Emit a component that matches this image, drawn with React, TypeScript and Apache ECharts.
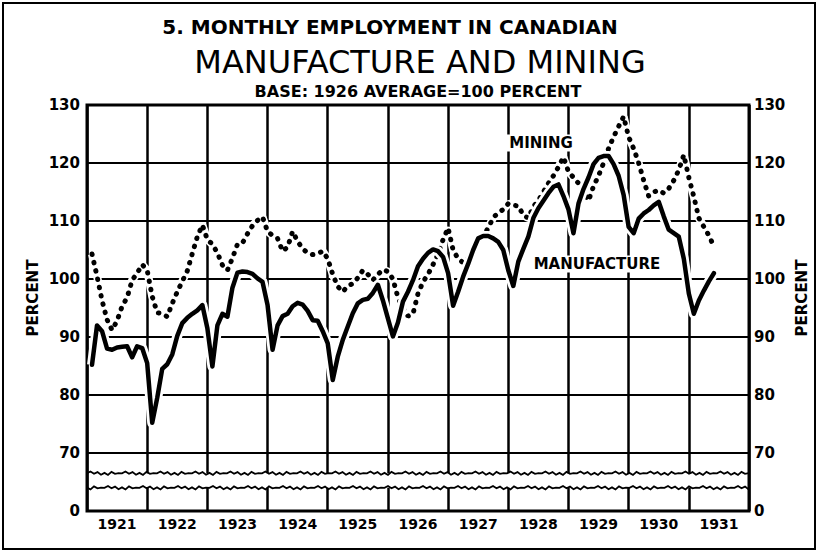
import React, { useEffect, useRef } from "react";
import * as echarts from "echarts";

// Year columns on the horizontal axis
const years = ["1921", "1922", "1923", "1924", "1925", "1926", "1927", "1928", "1929", "1930", "1931"];

// Monthly index of employment in manufacture, Jan 1921 – May 1931 (1926 avg = 100)
const manufacture = [
  85.2, 92.0, 91.0, 88.0, 87.8, 88.2, 88.3, 88.4, 86.5, 88.4, 88.1, 85.5,
  75.2, 79.5, 84.5, 85.3, 87.0, 90.2, 92.4, 93.3, 94.0, 94.6, 95.5, 91.5,
  84.9, 92.0, 94.0, 93.5, 98.5, 101.1, 101.3, 101.2, 100.9, 100.1, 99.5, 95.5,
  87.8, 92.0, 93.6, 94.0, 95.3, 95.9, 95.6, 94.5, 92.9, 92.8, 91.0, 88.9,
  82.6, 86.6, 89.5, 91.8, 94.1, 95.8, 96.4, 96.6, 97.6, 99.0, 96.3, 93.2,
  90.1, 92.5, 96.1, 97.8, 99.8, 102.2, 103.5, 104.5, 105.1, 104.8, 103.8, 101.0,
  95.4, 97.8, 100.4, 102.6, 105.0, 107.0, 107.4, 107.4, 107.0, 106.4, 105.0, 101.5,
  98.8, 103.0, 105.2, 107.3, 110.5, 112.2, 113.5, 114.8, 115.9, 116.3, 114.3, 112.0,
  107.9, 113.0, 115.5, 117.5, 119.8, 120.9, 121.2, 121.2, 119.8, 117.8, 114.5, 109.0,
  107.9, 110.4, 111.3, 111.9, 112.7, 113.3, 110.8, 108.5, 107.9, 107.3, 103.5, 97.5,
  94.0, 96.3, 98.0, 99.6, 101.0,
];

// Monthly index of employment in mining, Jan 1921 – May 1931 (1926 avg = 100)
const mining = [
  104.3, 100.5, 96.3, 93.0, 91.2, 92.8, 95.3, 96.8, 99.8, 101.0, 102.5, 101.5,
  97.0, 94.2, 94.0, 93.5, 95.8, 97.8, 99.6, 101.4, 104.4, 107.3, 109.3, 106.8,
  106.0, 104.5, 102.4, 101.5, 103.6, 106.0, 106.2, 107.8, 109.2, 110.1, 110.7, 108.2,
  107.5, 107.0, 104.8, 105.5, 108.2, 106.5, 105.2, 104.5, 104.2, 104.4, 104.8, 103.5,
  100.8, 98.7, 97.8, 98.8, 99.2, 100.2, 101.5, 100.8, 99.8, 100.8, 101.6, 101.3,
  100.0, 96.8, 95.0, 93.6, 94.0, 97.5, 99.5, 100.8, 102.5, 104.3, 106.8, 108.8,
  105.0, 103.5, 102.8, 103.6, 105.2, 106.5, 107.4, 108.8, 110.6, 111.4, 112.0, 113.0,
  112.7, 112.6, 111.0, 110.5, 112.5, 113.5, 115.0, 116.5, 117.8, 119.3, 121.0, 118.5,
  117.5, 116.5, 115.0, 113.5, 116.0, 117.8, 120.0, 122.5, 124.5, 126.3, 128.0, 124.5,
  122.5, 120.0, 117.0, 114.3, 115.0, 115.3, 114.8, 115.6, 117.0, 118.8, 121.4, 117.5,
  114.2, 110.5, 109.0, 107.5, 105.6,
];

// Vertical scale: 60 stands for the broken-axis "0"
const yMin = 60;
const yMax = 130;
const yStep = 10;
const startYear = 1921;
const endYear = 1932;

const FONT = "DejaVu Sans";

const toPoints = (vals: number[]) => vals.map((v, i) => [startYear + (i + 1) / 12, v]);

export default function App() {
  const ref = useRef<HTMLDivElement>(null);

  useEffect(() => {
    document.body.style.margin = "0";
    if (!ref.current) return;
    const chart = echarts.init(ref.current, undefined, { renderer: "svg" });

    const axisLabelStyle = {
      color: "#000",
      fontFamily: FONT,
      fontWeight: "bold" as const,
      fontSize: 15,
    };

    const option: any = {
      animation: false,
      backgroundColor: "#fff",
      grid: {
        left: 87,
        right: 69,
        top: 105,
        bottom: 41,
        show: true,
        borderColor: "#000",
        borderWidth: 3,
        backgroundColor: "transparent",
      },
      xAxis: [
        {
          type: "value",
          position: "top",
          min: startYear,
          max: endYear,
          interval: 1,
          axisLine: { show: false },
          axisTick: { show: false },
          axisLabel: { show: false },
          splitLine: { show: true, lineStyle: { color: "#000", width: 2.5 } },
        },
        {
          type: "category",
          position: "bottom",
          data: years,
          boundaryGap: true,
          axisLine: { show: false },
          axisTick: { show: false },
          splitLine: { show: false },
          axisLabel: { ...axisLabelStyle, fontSize: 14, interval: 0, margin: 6 },
        },
      ],
      yAxis: [
        {
          type: "value",
          position: "left",
          min: yMin,
          max: yMax,
          interval: yStep,
          axisLine: { show: false },
          axisTick: { show: false },
          axisLabel: {
            ...axisLabelStyle,
            margin: 7,
            formatter: (v: number) => (v === yMin ? "0" : String(v)),
          },
          splitLine: { show: true, lineStyle: { color: "#000", width: 2 } },
        },
        {
          type: "value",
          position: "right",
          min: yMin,
          max: yMax,
          interval: yStep,
          axisLine: { show: false },
          axisTick: { show: false },
          axisLabel: {
            ...axisLabelStyle,
            margin: 5,
            formatter: (v: number) => (v === yMin ? "0" : String(v)),
          },
          splitLine: { show: false },
        },
      ],
      series: [
        {
          name: "mining-halo",
          type: "line",
          silent: true,
          xAxisIndex: 0,
          yAxisIndex: 0,
          data: toPoints(mining),
          showSymbol: false,
          z: 3,
          lineStyle: { color: "#fff", width: 8 },
        },
        {
          name: "Mining",
          type: "line",
          xAxisIndex: 0,
          yAxisIndex: 0,
          data: toPoints(mining),
          showSymbol: false,
          z: 4,
          lineStyle: { color: "#000", width: 5, type: [0.5, 8], cap: "round" },
        },
        {
          name: "manufacture-halo",
          type: "line",
          silent: true,
          xAxisIndex: 0,
          yAxisIndex: 0,
          data: toPoints(manufacture),
          showSymbol: false,
          z: 5,
          lineStyle: { color: "#fff", width: 10, join: "round" },
        },
        {
          name: "Manufacture",
          type: "line",
          xAxisIndex: 0,
          yAxisIndex: 0,
          data: toPoints(manufacture),
          showSymbol: false,
          z: 6,
          lineStyle: { color: "#000", width: 4.5, join: "round", cap: "round" },
        },
      ],
    };

    chart.setOption(option);

    // Decorative elements placed with the chart's own scales
    const xL = chart.convertToPixel({ xAxisIndex: 0 }, startYear) as number;
    const xR = chart.convertToPixel({ xAxisIndex: 0 }, endYear) as number;
    const yUp = chart.convertToPixel({ yAxisIndex: 0 }, 66.5) as number;
    const yLo = chart.convertToPixel({ yAxisIndex: 0 }, 64) as number;
    const wig = [0, -1.8, 0.4, -1.2, 1.4, -0.4, 1.7, -1.4, 0.6, -0.2];
    const wave = (y0: number, off: number) => {
      const pts: number[][] = [];
      let k = off;
      for (let x = xL; x <= xR; x += 3.5) {
        pts.push([x, y0 + wig[k % wig.length]]);
        k++;
      }
      pts.push([xR, y0]);
      return pts;
    };

    const textBase = { fill: "#000", fontFamily: FONT, fontWeight: "bold" };

    chart.setOption({
      graphic: [
        {
          type: "rect",
          z: 100,
          shape: { x: xL + 2, y: yUp, width: xR - xL - 4, height: yLo - yUp },
          style: { fill: "#fff" },
        },
        {
          type: "polyline",
          z: 101,
          shape: { points: wave(yUp, 0) },
          style: { stroke: "#000", lineWidth: 1.8, fill: null },
        },
        {
          type: "polyline",
          z: 101,
          shape: { points: wave(yLo, 5) },
          style: { stroke: "#000", lineWidth: 1.8, fill: null },
        },
        {
          type: "rect",
          z: 0,
          shape: { x: 3, y: 3, width: 812, height: 546 },
          style: { fill: null, stroke: "#000", lineWidth: 2 },
        },
        {
          type: "text",
          z: 100,
          x: 390,
          y: 27,
          style: { ...textBase, text: "5. MONTHLY EMPLOYMENT IN CANADIAN", fontSize: 20, textAlign: "center", textVerticalAlign: "middle" },
        },
        {
          type: "text",
          z: 100,
          x: 420,
          y: 62,
          style: { ...textBase, fontWeight: "normal", text: "MANUFACTURE AND MINING", fontSize: 32, textAlign: "center", textVerticalAlign: "middle" },
        },
        {
          type: "text",
          z: 100,
          x: 418,
          y: 91,
          style: { ...textBase, text: "BASE: 1926 AVERAGE=100 PERCENT", fontSize: 16, textAlign: "center", textVerticalAlign: "middle" },
        },
        {
          type: "text",
          z: 100,
          x: 33,
          y: 298,
          rotation: Math.PI / 2,
          style: { ...textBase, text: "PERCENT", fontSize: 15, textAlign: "center", textVerticalAlign: "middle" },
        },
        {
          type: "text",
          z: 100,
          x: 802,
          y: 298,
          rotation: Math.PI / 2,
          style: { ...textBase, text: "PERCENT", fontSize: 15, textAlign: "center", textVerticalAlign: "middle" },
        },
        {
          type: "text",
          z: 100,
          x: 541,
          y: 143,
          style: { ...textBase, text: "MINING", fontSize: 15, textAlign: "center", textVerticalAlign: "middle", backgroundColor: "#fff", padding: [1, 3] },
        },
        {
          type: "text",
          z: 100,
          x: 597,
          y: 264,
          style: { ...textBase, text: "MANUFACTURE", fontSize: 15, textAlign: "center", textVerticalAlign: "middle", backgroundColor: "#fff", padding: [1, 3] },
        },
      ],
    });

    return () => chart.dispose();
  }, []);

  return <div ref={ref} style={{ width: 818, height: 552 }} />;
}
